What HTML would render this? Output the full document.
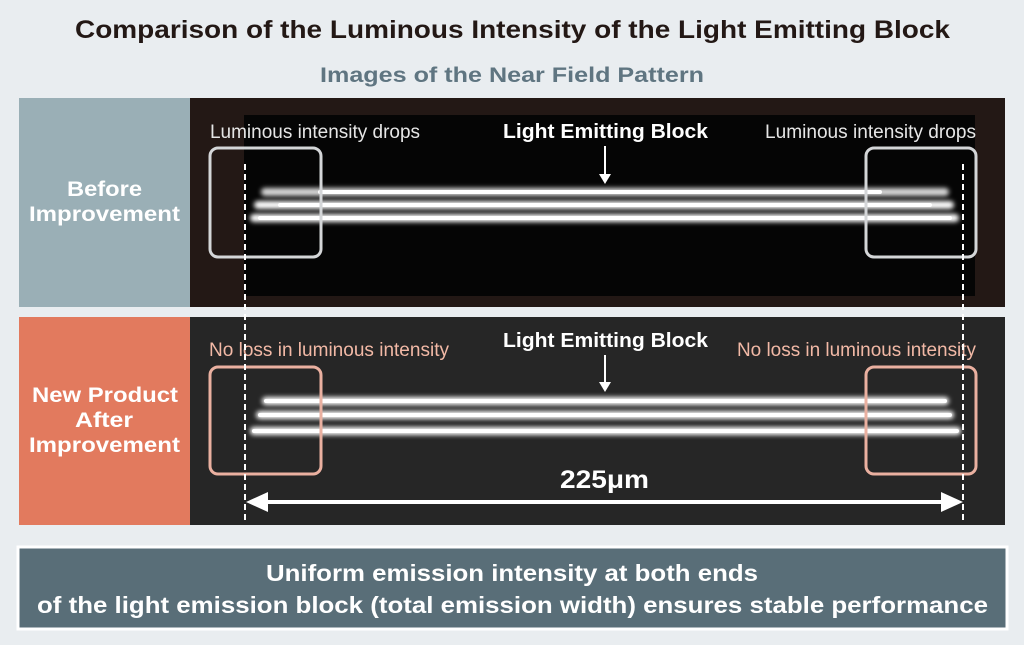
<!DOCTYPE html>
<html><head><meta charset="utf-8"><style>
body{margin:0;background:#e9edf0;}
svg{display:block;font-family:"Liberation Sans",Arial,sans-serif;}
</style></head><body>
<svg width="1024" height="645" viewBox="0 0 1024 645">
<defs>
<filter id="gl" x="-5%" y="-200%" width="110%" height="500%"><feGaussianBlur stdDeviation="2.5"/></filter>
</defs>
<rect width="1024" height="645" fill="#e9edf0"/>
<text x="75" y="38" textLength="875" lengthAdjust="spacingAndGlyphs" font-size="25" font-weight="bold" fill="#231815">Comparison of the Luminous Intensity of the Light Emitting Block</text>
<text x="320" y="82" textLength="384" lengthAdjust="spacingAndGlyphs" font-size="21" font-weight="bold" fill="#5f7581">Images of the Near Field Pattern</text>

<!-- top panel -->
<rect x="19" y="98" width="171" height="209" fill="#9aafb6"/>
<text x="67" y="196" textLength="75" lengthAdjust="spacingAndGlyphs" font-size="21" font-weight="bold" fill="#fff">Before</text>
<text x="29" y="221" textLength="151" lengthAdjust="spacingAndGlyphs" font-size="21" font-weight="bold" fill="#fff">Improvement</text>
<rect x="190" y="98" width="815" height="209" fill="#231815"/>
<rect x="244" y="115" width="731" height="181" fill="#050505"/>
<g filter="url(#gl)" stroke="#fff" stroke-linecap="round">
<line x1="265" y1="192" x2="945" y2="192" stroke-width="8" opacity="0.85"/>
<line x1="258" y1="205" x2="950" y2="205" stroke-width="8"/>
<line x1="254" y1="218" x2="955" y2="218" stroke-width="8"/>
</g>
<g stroke="#fff" stroke-linecap="round">
<line x1="320" y1="192" x2="880" y2="192" stroke-width="4"/>
<line x1="280" y1="205" x2="930" y2="205" stroke-width="4"/>
<line x1="260" y1="218" x2="950" y2="218" stroke-width="4"/>
</g>
<rect x="210" y="148" width="111" height="109" rx="8" fill="none" stroke="#d4d6d8" stroke-width="3"/>
<rect x="866" y="148" width="110" height="109" rx="8" fill="none" stroke="#d4d6d8" stroke-width="3"/>
<text x="210" y="138" textLength="210" lengthAdjust="spacingAndGlyphs" font-size="19" fill="#e6e6e6">Luminous intensity drops</text>
<text x="765" y="138" textLength="211" lengthAdjust="spacingAndGlyphs" font-size="19" fill="#e6e6e6">Luminous intensity drops</text>
<text x="503" y="138" textLength="205" lengthAdjust="spacingAndGlyphs" font-size="20" font-weight="bold" fill="#fff">Light Emitting Block</text>
<line x1="605" y1="146" x2="605" y2="178" stroke="#fff" stroke-width="2"/>
<path d="M599 174 L605 184 L611 174Z" fill="#fff"/>

<!-- bottom panel -->
<rect x="19" y="317" width="171" height="208" fill="#e27a5e"/>
<text x="32" y="402" textLength="146" lengthAdjust="spacingAndGlyphs" font-size="21" font-weight="bold" fill="#fff">New Product</text>
<text x="75" y="427" textLength="58" lengthAdjust="spacingAndGlyphs" font-size="21" font-weight="bold" fill="#fff">After</text>
<text x="29" y="452" textLength="151" lengthAdjust="spacingAndGlyphs" font-size="21" font-weight="bold" fill="#fff">Improvement</text>
<rect x="190" y="317" width="815" height="208" fill="#262626"/>
<g filter="url(#gl)" stroke="#fff" stroke-linecap="round">
<line x1="266" y1="401" x2="945" y2="401" stroke-width="8"/>
<line x1="260" y1="415" x2="950" y2="415" stroke-width="8"/>
<line x1="254" y1="431" x2="957" y2="431" stroke-width="8"/>
</g>
<g stroke="#fff" stroke-linecap="round">
<line x1="266" y1="401" x2="945" y2="401" stroke-width="4"/>
<line x1="260" y1="415" x2="950" y2="415" stroke-width="4"/>
<line x1="254" y1="431" x2="957" y2="431" stroke-width="4"/>
</g>
<rect x="210" y="367" width="111" height="107" rx="8" fill="none" stroke="#eab0a0" stroke-width="3"/>
<rect x="866" y="367" width="110" height="107" rx="8" fill="none" stroke="#eab0a0" stroke-width="3"/>
<text x="209" y="356" textLength="240" lengthAdjust="spacingAndGlyphs" font-size="19" fill="#f2b9a6">No loss in luminous intensity</text>
<text x="737" y="356" textLength="239" lengthAdjust="spacingAndGlyphs" font-size="19" fill="#f2b9a6">No loss in luminous intensity</text>
<text x="503" y="347" textLength="205" lengthAdjust="spacingAndGlyphs" font-size="20" font-weight="bold" fill="#fff">Light Emitting Block</text>
<line x1="605" y1="355" x2="605" y2="386" stroke="#fff" stroke-width="2"/>
<path d="M599 382 L605 392 L611 382Z" fill="#fff"/>
<text x="560" y="488" textLength="89" lengthAdjust="spacingAndGlyphs" font-size="25" font-weight="bold" fill="#fff">225μm</text>
<line x1="262" y1="502" x2="948" y2="502" stroke="#fff" stroke-width="4"/>
<path d="M246 502 L268 492 L268 512Z" fill="#fff"/>
<path d="M963 502 L941 492 L941 512Z" fill="#fff"/>

<!-- dashed lines -->
<line x1="245" y1="164" x2="245" y2="522" stroke="#fff" stroke-width="2" stroke-dasharray="6,4"/>
<line x1="963" y1="164" x2="963" y2="522" stroke="#fff" stroke-width="2" stroke-dasharray="6,4"/>

<!-- banner -->
<rect x="18" y="547" width="989" height="82" fill="#596e78" stroke="#fff" stroke-width="3"/>
<text x="266" y="581" textLength="492" lengthAdjust="spacingAndGlyphs" font-size="23" font-weight="bold" fill="#fff">Uniform emission intensity at both ends</text>
<text x="37" y="613" textLength="951" lengthAdjust="spacingAndGlyphs" font-size="23" font-weight="bold" fill="#fff">of the light emission block (total emission width) ensures stable performance</text>
</svg>
</body></html>
